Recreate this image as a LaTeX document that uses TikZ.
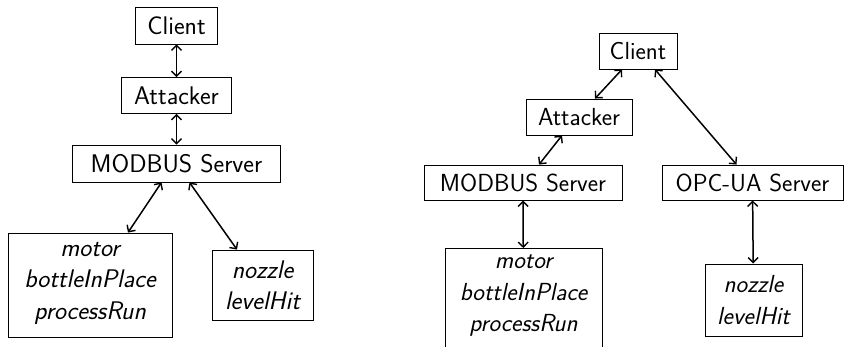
\documentclass[tikz,border=0pt]{standalone}
\usetikzlibrary{arrows.meta}
\begin{document}
\begin{tikzpicture}[x=1pt,y=-1pt,
  box/.style={draw,line width=0.9pt,inner sep=0pt,font=\sffamily\fontsize{25.5}{31.5}\selectfont},
  rbox/.style={draw,line width=0.9pt,inner sep=0pt,font=\sffamily\fontsize{24.7}{31.5}\selectfont},
  conn/.style={line width=1.5pt,{Straight Barb[length=5pt,width=10pt,line width=1.4pt]}-{Straight Barb[length=5pt,width=10pt,line width=1.4pt]}}]
\useasboundingbox (0,0) rectangle (844,346);
% left
\node[box,minimum width=82pt,minimum height=37pt] (cL) at (176.5,25.5) {Client};
\node[box,minimum width=110pt,minimum height=36pt] (aL) at (176.5,95.5) {Attacker};
\node[box,minimum width=208pt,minimum height=37pt] (mL) at (176.5,163.5) {MODBUS Server};
\node[box,minimum width=164pt,minimum height=104pt] (moL) at (90,285) {};
\node[box,draw=none,align=center] (moLt) at (90,283) {\itshape motor\\\itshape bottleInPlace\\\itshape processRun};
\node[box,minimum width=101pt,minimum height=70pt,align=center] (nL) at (262.5,285) {\itshape nozzle\\\itshape levelHit};
\draw[conn] (cL) -- (aL);
\draw[conn] (aL) -- (mL);
\draw[conn] ([xshift=-15pt]mL.south) -- ([xshift=38pt]moL.north);
\draw[conn] ([xshift=13pt]mL.south) -- ([xshift=-25.5pt]nL.north);
% right
\node[rbox,minimum width=78pt,minimum height=36pt] (cR) at (638,51) {Client};
\node[rbox,minimum width=106pt,minimum height=36pt] (aR) at (579,117) {Attacker};
\node[rbox,minimum width=198pt,minimum height=35pt] (mR) at (523,182.5) {MODBUS Server};
\node[rbox,minimum width=181pt,minimum height=35pt] (oR) at (752.5,182.5) {OPC-UA Server};
\node[rbox,minimum width=157pt,minimum height=120pt,anchor=north] (moR) at (523.5,248) {};
\node[rbox,draw=none,align=center] (moRt) at (523.5,296) {\itshape motor\\\itshape bottleInPlace\\\itshape processRun};
\node[rbox,minimum width=97pt,minimum height=72pt,align=center] (nR) at (753.5,300) {\itshape nozzle\\\itshape levelHit};
\draw[conn] ([xshift=-16pt]cR.south) -- ([xshift=16pt]aR.north);
\draw[conn] ([xshift=17pt]cR.south) -- ([xshift=-16pt]oR.north);
\draw[conn] ([xshift=-17pt]aR.south) -- ([xshift=16pt]mR.north);
\draw[conn] (mR) -- (moR);
\draw[conn] (oR) -- (nR);
\end{tikzpicture}
\end{document}
